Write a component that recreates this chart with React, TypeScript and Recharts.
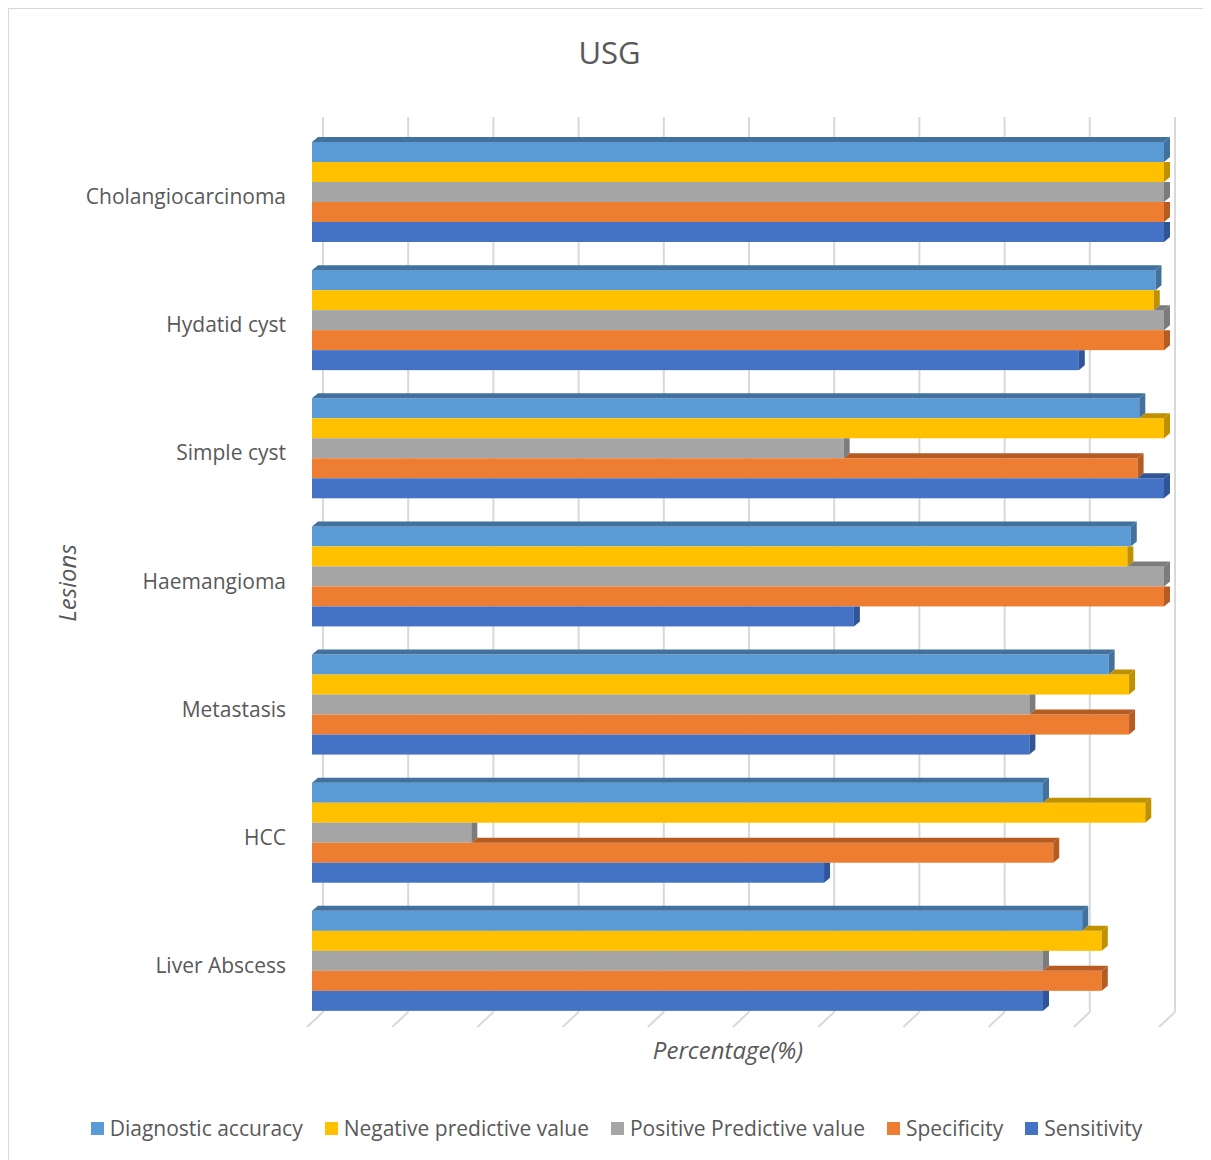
import React from "react";
import {
  BarChart,
  Bar,
  XAxis,
  YAxis,
  CartesianGrid,
  Legend,
} from "recharts";

const CATEGORIES = [
  "Cholangiocarcinoma",
  "Hydatid cyst",
  "Simple cyst",
  "Haemangioma",
  "Metastasis",
  "HCC",
  "Liver Abscess",
];
const DIAGNOSTIC_ACCURACY = [100, 99, 97.1, 96.1, 93.5, 85.8, 90.4];
const NEGATIVE_PV = [100, 98.8, 100, 95.7, 95.9, 97.8, 92.7];
const POSITIVE_PV = [100, 100, 62.4, 100, 84.2, 18.7, 85.8];
const SPECIFICITY = [100, 100, 96.9, 100, 95.9, 87, 92.7];
const SENSITIVITY = [100, 90, 100, 63.6, 84.2, 60.1, 85.8];
const X_TICKS = [0, 10, 20, 30, 40, 50, 60, 70, 80, 90, 100];

const SERIES = [
  { key: "da", name: "Diagnostic accuracy", color: "#5B9BD5", shade: "#41719C", values: DIAGNOSTIC_ACCURACY },
  { key: "npv", name: "Negative predictive value", color: "#FFC000", shade: "#BF9000", values: NEGATIVE_PV },
  { key: "ppv", name: "Positive Predictive value", color: "#A5A5A5", shade: "#7C7C7C", values: POSITIVE_PV },
  { key: "spec", name: "Specificity", color: "#ED7D31", shade: "#B65B22", values: SPECIFICITY },
  { key: "sens", name: "Sensitivity", color: "#4472C4", shade: "#2F5597", values: SENSITIVITY },
];

const data = CATEGORIES.map((name, i) => {
  const row: Record<string, string | number> = { name };
  SERIES.forEach((s) => (row[s.key] = s.values[i]));
  return row;
});

const FONT = "'Open Sans', sans-serif";
const TEXT = "#595959";
const DX = 6;
const DY = 5;

// 3d-looking bar: front face, end face and the visible bit of the top face
const makeShape = (i: number) => (props: any) => {
  const { x, y, width, height, payload } = props;
  const s = SERIES[i];
  const value = payload[s.key] as number;
  if (!width || width <= 0) return <g />;
  const k = width / value;
  const upper = i > 0 ? (payload[SERIES[i - 1].key] as number) : -1;
  const right = x + width;
  let top: string | null = null;
  if (i === 0) {
    top = `${x},${y} ${x + DX},${y - DY} ${right + DX},${y - DY} ${right},${y}`;
  } else if (upper < value) {
    const ux = x + upper * k;
    top = `${ux},${y} ${ux + DX},${y - DY} ${right + DX},${y - DY} ${right},${y}`;
  }
  const side =
    i === 0 || upper < value
      ? `${right},${y} ${right + DX},${y - DY} ${right + DX},${y + height - DY} ${right},${y + height}`
      : `${right},${y} ${right + DX},${y} ${right + DX},${y + height - DY} ${right},${y + height}`;
  return (
    <g>
      <rect x={x} y={y} width={width} height={height} fill={s.color} />
      {top && <polygon points={top} fill={s.shade} />}
      <polygon points={side} fill={s.shade} />
    </g>
  );
};

const GridLine = (props: any) => {
  const { x1, y1, y2 } = props;
  return (
    <g key={props.key}>
      <line x1={x1 + 11} y1={y1 - 10} x2={x1 + 11} y2={y2 - 12} stroke="#D9D9D9" strokeWidth={2} />
      <line x1={x1 + 11} y1={y2 - 12} x2={x1 - 5} y2={y2 + 3} stroke="#D9D9D9" strokeWidth={2} />
    </g>
  );
};

const NoTick = () => <g />;

const CategoryTick = (props: any) => {
  const { x, y, payload } = props;
  return (
    <text
      x={x}
      y={y + 5}
      textAnchor="end"
      dominantBaseline="central"
      fill={TEXT}
      fontSize={21}
      fontFamily={FONT}
    >
      {payload.value}
    </text>
  );
};

const LegendContent = () => (
  <div
    style={{
      display: "flex",
      justifyContent: "center",
      gap: 22,
      paddingLeft: 14,
      fontFamily: FONT,
      fontSize: 21,
      color: TEXT,
    }}
  >
    {SERIES.map((s) => (
      <div key={s.key} style={{ display: "flex", alignItems: "center" }}>
        <span style={{ width: 13, height: 13, background: s.color, marginRight: 6 }} />
        <span>{s.name}</span>
      </div>
    ))}
  </div>
);

export default function App() {
  return (
    <div
      style={{
        position: "relative",
        width: 1203,
        height: 1152,
        boxSizing: "border-box",
        borderTop: "1px solid #D9D9D9",
        borderLeft: "1px solid #D9D9D9",
        borderRight: "1px solid #D9D9D9",
        background: "#fff",
      }}
    >
      <div
        style={{
          position: "absolute",
          top: 25,
          left: 0,
          width: "100%",
          textAlign: "center",
          fontFamily: FONT,
          fontSize: 31,
          lineHeight: "36px",
          color: TEXT,
        }}
      >
        USG
      </div>
      <BarChart
        width={1201}
        height={1151}
        data={data}
        layout="vertical"
        margin={{ top: 118, right: 46, bottom: 96, left: 0 }}
        barCategoryGap={15}
        barGap={0}
      >
        <CartesianGrid horizontal={false} vertical={GridLine} />
        <XAxis
          type="number"
          domain={[0, 100]}
          ticks={X_TICKS}
          interval={0}
          tick={<NoTick />}
          axisLine={false}
          tickLine={false}
          height={40}
        />
        <YAxis
          type="category"
          dataKey="name"
          width={303}
          axisLine={false}
          tickLine={false}
          tickSize={0}
          tickMargin={26}
          tick={<CategoryTick />}
        />
        <Legend
          layout="horizontal"
          verticalAlign="middle"
          align="center"
          wrapperStyle={{ top: 1105, left: 0, width: 1201 }}
          content={<LegendContent />}
        />
        {SERIES.map((s, i) => (
          <Bar
            key={s.key}
            dataKey={s.key}
            name={s.name}
            fill={s.color}
            isAnimationActive={false}
            shape={makeShape(i)}
          />
        ))}
      </BarChart>
      <div
        style={{
          position: "absolute",
          top: 1024,
          left: 293,
          width: 852,
          textAlign: "center",
          fontFamily: FONT,
          fontStyle: "italic",
          fontSize: 24,
          color: TEXT,
        }}
      >
        Percentage(%)
      </div>
      <div
        style={{
          position: "absolute",
          left: 57,
          top: 574,
          transform: "translate(-50%, -50%) rotate(-90deg)",
          fontFamily: FONT,
          fontStyle: "italic",
          fontSize: 24,
          color: TEXT,
          whiteSpace: "nowrap",
        }}
      >
        Lesions
      </div>
    </div>
  );
}
